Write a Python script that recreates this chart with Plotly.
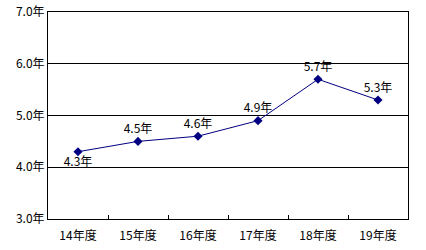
import plotly.graph_objects as go

categories = ["14年度", "15年度", "16年度", "17年度", "18年度", "19年度"]
values = [4.3, 4.5, 4.6, 4.9, 5.7, 5.3]
labels = ["4.3年", "4.5年", "4.6年", "4.9年", "5.7年", "5.3年"]
label_pos = ["bottom center", "top center", "top center", "top center", "top center", "top center"]
y_ticks = [3.0, 4.0, 5.0, 6.0, 7.0]
y_tick_labels = ["3.0年", "4.0年", "5.0年", "6.0年", "7.0年"]

font_family = "Noto Sans CJK JP, sans-serif"

fig = go.Figure()
fig.add_trace(go.Scatter(
    x=categories, y=values, mode="lines+markers+text",
    line=dict(color="#000080", width=1),
    marker=dict(symbol="diamond", size=7, color="#000080"),
    text=labels, textposition=label_pos,
    textfont=dict(family=font_family, size=12, color="black"),
    cliponaxis=False, showlegend=False,
))

fig.update_layout(
    width=426, height=250,
    margin=dict(l=48, r=18, t=12, b=31, autoexpand=False),
    paper_bgcolor="white", plot_bgcolor="white",
    font=dict(family=font_family, size=12, color="black"),
    xaxis=dict(
        type="category", range=[-0.5, 5.5], automargin=False,
        tickson="boundaries", ticks="inside", ticklen=4, tickcolor="black",
        showline=True, linecolor="black", linewidth=1, mirror=True,
        showgrid=False, tickfont=dict(size=12), ticklabelstandoff=6,
    ),
    yaxis=dict(
        range=[3.0, 7.0], tickvals=y_ticks, ticktext=y_tick_labels, automargin=False,
        showline=True, linecolor="black", linewidth=1, mirror=True,
        showgrid=True, gridcolor="black", gridwidth=1,
        ticks="", zeroline=False, tickfont=dict(size=12),
    ),
)

fig.write_html("out.html")
